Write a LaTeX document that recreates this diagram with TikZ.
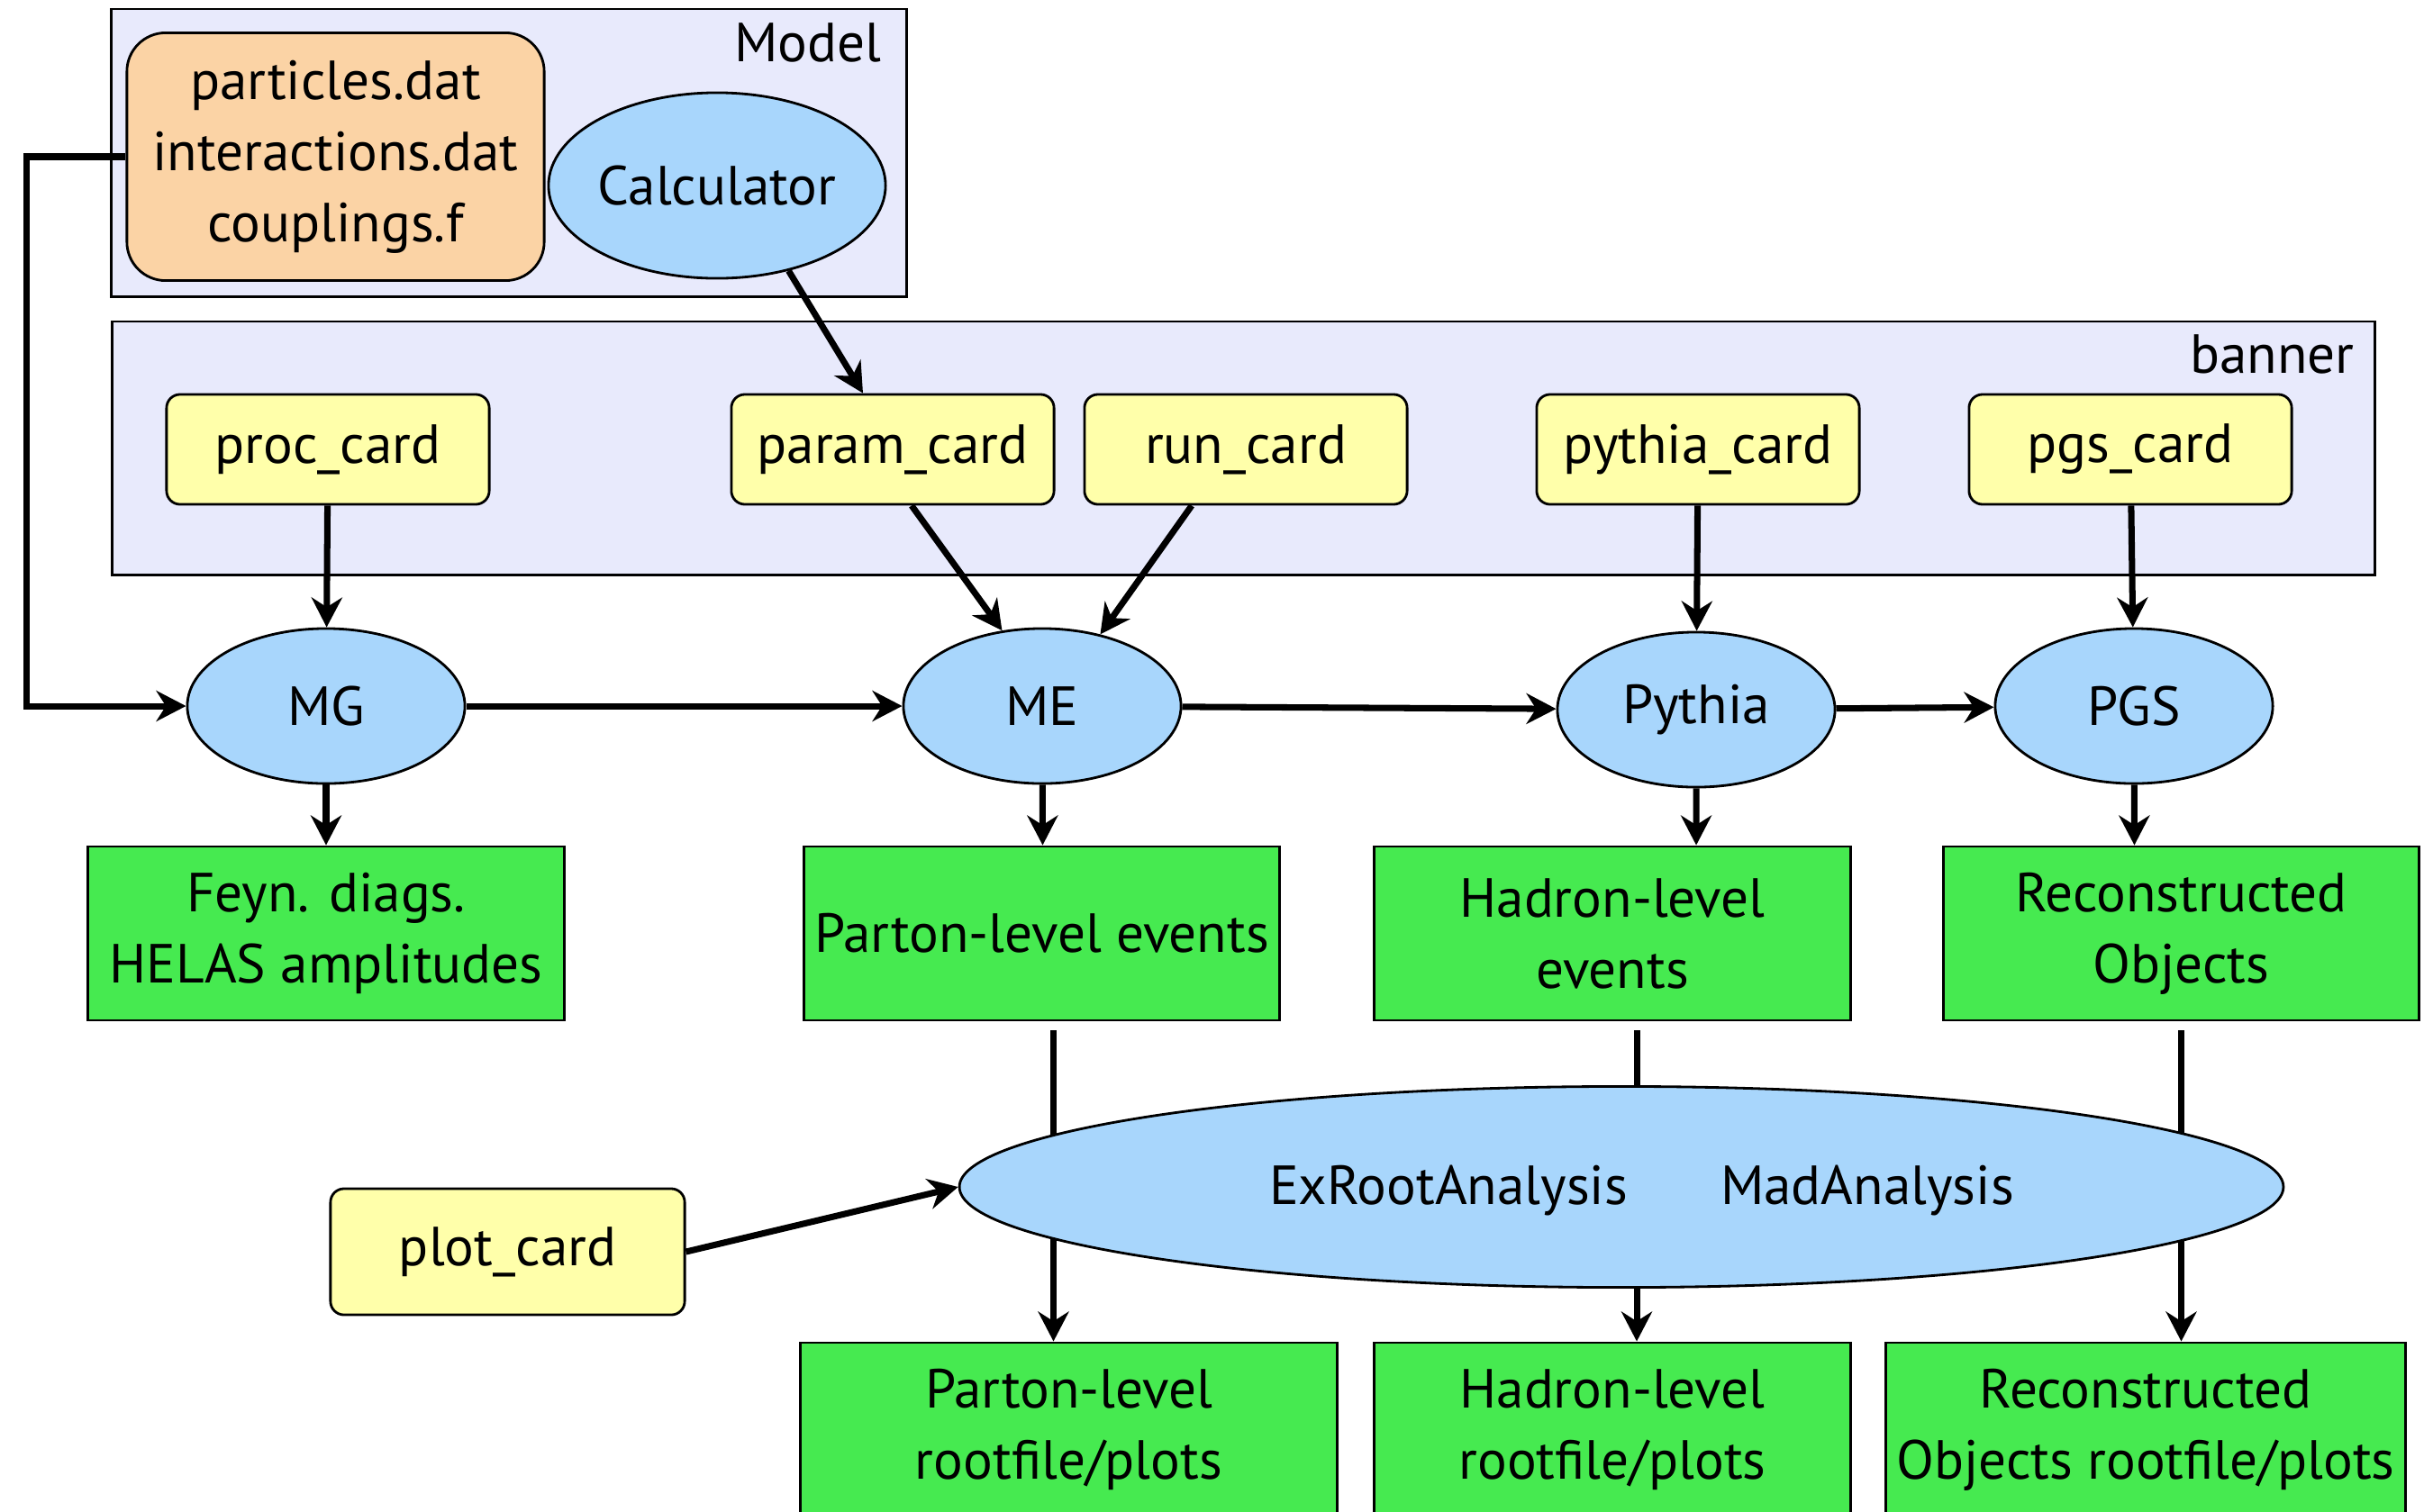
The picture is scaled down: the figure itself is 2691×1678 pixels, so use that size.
\documentclass[tikz,border=0pt]{standalone}
\usepackage{fontspec}
\setmainfont{PT Sans}
\usepackage{tikz}
\usetikzlibrary{shapes.geometric,arrows.meta}

\definecolor{groupbg}{RGB}{232,234,252}
\definecolor{filebg}{RGB}{251,211,165}
\definecolor{toolbg}{RGB}{168,214,252}
\definecolor{cardbg}{RGB}{255,255,170}
\definecolor{outbg}{RGB}{70,234,80}

\begin{document}
\begin{tikzpicture}[x=0.01cm,y=-0.01cm,
    every node/.style={font=\fontsize{17.4}{22.5}\selectfont, align=center, inner sep=0pt, line width=0.8pt},
    group/.style={draw, fill=groupbg, rectangle},
    card/.style={draw, fill=cardbg, rectangle, rounded corners=0.15cm, minimum width=3.58cm, minimum height=1.22cm},
    tool/.style={draw, fill=toolbg, ellipse, minimum width=3.08cm, minimum height=1.72cm},
    result/.style={draw, fill=outbg, rectangle, minimum height=1.93cm},
    arr/.style={line width=2pt, -{Stealth[length=0.33cm,width=0.34cm]}}]
      \useasboundingbox (0,0) rectangle (2691,1678);
      \clip (0,0) rectangle (2691,1678);

      % model files
      \node[group, minimum width=8.82cm, minimum height=3.19cm] (model) at (565,169.5) {};
      \node[anchor=north east] (modellbl) at (980,24) {Model};
      \node[draw, fill=filebg, rounded corners=0.43cm, minimum width=4.63cm, minimum height=2.75cm] (files) at (372.5,174) {particles.dat\\interactions.dat\\couplings.f};
      \node[tool, minimum width=3.5cm, minimum height=2.06cm] (calc) at (796,206) {Calculator};

      % banner cards
      \node[group, minimum width=25.11cm, minimum height=2.81cm] (banner) at (1380.5,497.5) {};
      \node[anchor=north east] (bannerlbl) at (2615,370) {banner};
      \node[card] (proccard) at (364,499) {proc\_card};
      \node[card] (paramcard) at (991,499) {param\_card};
      \node[card] (runcard) at (1383,499) {run\_card};
      \node[card] (pythiacard) at (1885,499) {pythia\_card};
      \node[card] (pgscard) at (2365,499) {pgs\_card};

      % programs
      \node[tool] (mg) at (362,784) {MG};
      \node[tool] (me) at (1157,784) {ME};
      \node[tool] (pythia) at (1883,788) {Pythia};
      \node[tool] (pgs) at (2369,784) {PGS};

      \node[result, minimum width=5.28cm] (feyn) at (362,1036.5) {Feyn. diags.\\HELAS amplitudes};
      \node[result, minimum width=5.28cm] (pevents) at (1156.5,1036.5) {Parton-level events};
      \node[result, minimum width=5.28cm] (hevents) at (1790,1036.5) {Hadron-level\\events};
      \node[result, minimum width=5.28cm] (robjects) at (2421.5,1036.5) {Reconstructed\\Objects};

      \node[result, minimum width=5.95cm] (proot) at (1186.5,1587.5) {Parton-level\\rootfile/plots};
      \node[result, minimum width=5.28cm] (hroot) at (1790,1587.5) {Hadron-level\\rootfile/plots};
      \node[result, minimum width=5.76cm] (rroot) at (2382,1587.5) {Reconstructed\\Objects rootfile/plots};

      \draw[arr] (files.west) -- ++(-110,0) |- (mg.west);
      \draw[arr] (calc.-50) -- ([xshift=-0.33cm]paramcard.north);
      \draw[arr] ([xshift=0.21cm]paramcard.south) -- (me.118);
      \draw[arr] ([xshift=-0.6cm]runcard.south) -- (me.51);
      \draw[arr] (proccard) -- (mg);
      \draw[arr] (pythiacard) -- (pythia);
      \draw[arr] (pgscard) -- (pgs);
      \draw[arr] (mg) -- (me);
      \draw[arr] (me) -- (pythia);
      \draw[arr] (pythia) -- (pgs);
      \draw[arr] (mg) -- (feyn);
      \draw[arr] (me) -- ([xshift=0.01cm]pevents.north);
      \draw[arr] (pythia) -- ([xshift=0.93cm]hevents.north);
      \draw[arr] (pgs) -- ([xshift=-0.52cm]robjects.north);

      \draw[arr] ([xshift=0.13cm,yshift=-0.1cm]pevents.south) -- ([xshift=0.13cm]pevents.south |- proot.north);
      \draw[arr] ([xshift=0.27cm,yshift=-0.1cm]hevents.south) -- ([xshift=0.27cm]hevents.south |- hroot.north);
      \draw[arr] ([yshift=-0.1cm]robjects.south) -- (robjects.south |- rroot.north);

      % analysis
      \node[tool, minimum width=14.69cm, minimum height=2.23cm] (ana) at (1800,1318) {};
      \node (exroot) at (1608,1322) {ExRootAnalysis};
      \node (madana) at (2073,1322) {MadAnalysis};
      \node[card, minimum width=3.93cm, minimum height=1.4cm] (plotcard) at (563.5,1390) {plot\_card};
      \draw[arr] (plotcard.east) -- (ana.west);
\end{tikzpicture}
\end{document}
